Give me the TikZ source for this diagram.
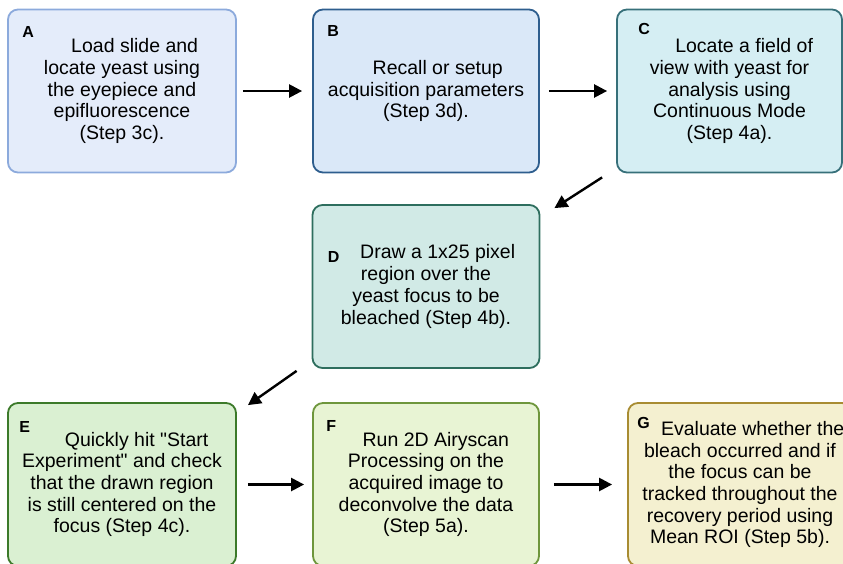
\documentclass[tikz,border=0pt]{standalone}
\usepackage{fontspec}
\setmainfont{Liberation Sans}
\usepackage{xcolor}
\usetikzlibrary{arrows.meta}
\definecolor{fillA}{RGB}{228,236,250}\definecolor{lineA}{RGB}{140,170,220}
\definecolor{fillB}{RGB}{218,232,248}\definecolor{lineB}{RGB}{46,94,142}
\definecolor{fillC}{RGB}{213,238,243}\definecolor{lineC}{RGB}{55,112,122}
\definecolor{fillD}{RGB}{209,234,230}\definecolor{lineD}{RGB}{46,110,94}
\definecolor{fillE}{RGB}{218,240,210}\definecolor{lineE}{RGB}{60,122,42}
\definecolor{fillF}{RGB}{232,244,212}\definecolor{lineF}{RGB}{110,150,60}
\definecolor{fillG}{RGB}{244,240,208}\definecolor{lineG}{RGB}{168,140,50}

\begin{document}
\begin{tikzpicture}[x=1pt,y=-1pt,
  box/.style={draw,line width=1.8pt,rounded corners=10pt,align=center,
    inner sep=0pt,minimum height=163pt,
    font=\fontsize{19.5}{21.7}\selectfont},
  tag/.style={anchor=north west,inner sep=0pt,
    font=\fontsize{16}{16}\selectfont\bfseries},
  arr/.style={line width=2.4pt,-{Triangle[length=13pt,width=13pt]}}]
  \useasboundingbox (0,0) rectangle (843,563);
  \clip (0,0) rectangle (843,563);
  % top row
  \node[box,fill=fillA,draw=lineA,minimum width=228pt] (A) at (122,91)
    {\hspace*{1.3em}Load slide and\\locate yeast using\\the eyepiece and\\
     epifluorescence\\(Step 3c).};
  \node[box,fill=fillB,draw=lineB,minimum width=226pt] (B) at (426,91)
    {\hspace*{1.2em}Recall or setup\\acquisition parameters\\(Step 3d).};
  \node[box,fill=fillC,draw=lineC,minimum width=225pt] (C) at (729.5,91)
    {\hspace*{1.5em}Locate a field of\\view with yeast for\\analysis using\\
     Continuous Mode\\(Step 4a).};
  % middle
  \node[box,fill=fillD,draw=lineD,minimum width=227pt] (D) at (426,286.5)
    {\hspace*{1.2em}Draw a 1x25 pixel\\region over the\\yeast focus to be\\
     bleached (Step 4b).};
  % bottom row
  \node[box,fill=fillE,draw=lineE,minimum width=228pt] (E) at (122,484.5)
    {\hspace*{1.5em}Quickly hit \textquotedbl Start\\Experiment\textquotedbl{} and check\\
     that the drawn region\\is still centered on the\\focus (Step 4c).};
  \node[box,fill=fillF,draw=lineF,minimum width=226pt] (F) at (426,484.5)
    {\hspace*{1em}Run 2D Airyscan\\Processing on the\\acquired image to\\
     deconvolve the data\\(Step 5a).};
  \node[box,fill=fillG,draw=lineG,minimum width=224pt] (G) at (740,484.5)
    {\hspace*{1.3em}Evaluate whether the\\bleach occurred and if\\
     the focus can be\\tracked throughout the\\recovery period using\\
     Mean ROI (Step 5b).};
  % step letters
  \foreach \n/\dx/\dy in {A/15/18,B/15/17,C/22/15,D/16/47,E/12/19,F/14/18,G/10/15}
    \node[tag] (tag\n) at ([shift={(\dx,\dy)}]\n.north west) {\n};
  % arrows
  \draw[arr,shorten <=6pt,shorten >=10pt] (A) -- (B);
  \draw[arr,shorten <=9pt,shorten >=9pt] (B) -- (C);
  \draw[arr] ([shift={(-14,4)}]C.south west) -- ([shift={(14,4)}]D.north east);
  \draw[arr] ([shift={(-15,2)}]D.south west) -- ([shift={(11,3)}]E.north east);
  \draw[arr,shorten <=11pt,shorten >=8pt] (E) -- (F);
  \draw[arr,shorten <=14pt,shorten >=15pt] (F) -- (G);
\end{tikzpicture}
\end{document}
